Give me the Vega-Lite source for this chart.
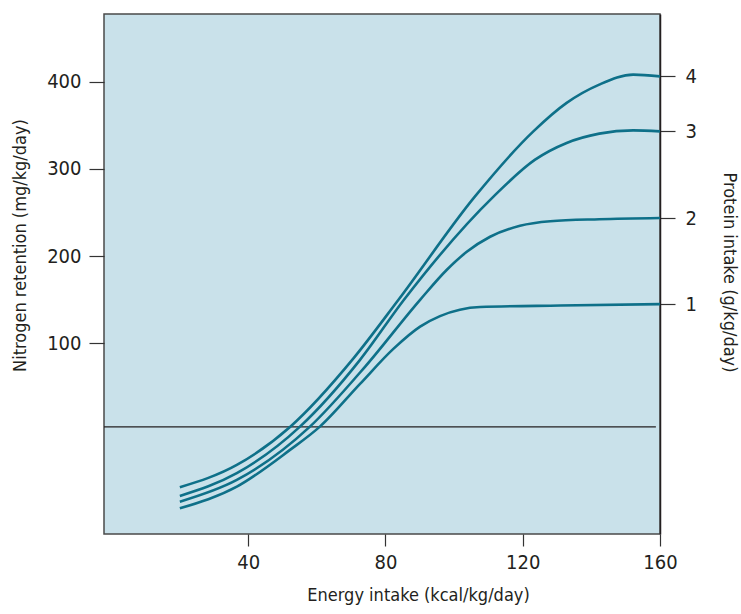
{
  "$schema": "https://vega.github.io/schema/vega-lite/v6.json",
  "width": 556,
  "height": 520,
  "autosize": "none",
  "padding": {"left": 104, "top": 14, "right": 81, "bottom": 80},
  "background": "white",
  "config": {
    "view": {"stroke": "#4a4a4a", "strokeWidth": 1.5, "fill": "#c9e1ea"},
    "font": "DejaVu Sans Condensed, Liberation Sans Narrow, DejaVu Sans, sans-serif",
    "axis": {
      "labelFont": "DejaVu Sans Condensed, Liberation Sans Narrow, DejaVu Sans, sans-serif",
      "titleFont": "DejaVu Sans Condensed, Liberation Sans Narrow, DejaVu Sans, sans-serif",
      "labelFontSize": 20,
      "titleFontSize": 18,
      "titleFontWeight": "normal",
      "labelColor": "#231f20",
      "titleColor": "#231f20",
      "tickColor": "#333333",
      "grid": false,
      "labelFlush": false,
      "labelOverlap": false
    }
  },
  "datasets": {
    "curves": [
      {"curve": "4", "energy": 20.1, "nitrogen": -65.5},
      {"curve": "4", "energy": 36.7, "nitrogen": -39.9},
      {"curve": "4", "energy": 52.2, "nitrogen": 3.8},
      {"curve": "4", "energy": 70.8, "nitrogen": 83.1},
      {"curve": "4", "energy": 83.8, "nitrogen": 149.8},
      {"curve": "4", "energy": 106.1, "nitrogen": 268.5},
      {"curve": "4", "energy": 123.1, "nitrogen": 343.2},
      {"curve": "4", "energy": 132.8, "nitrogen": 375.9},
      {"curve": "4", "energy": 142.3, "nitrogen": 396.9},
      {"curve": "4", "energy": 152.2, "nitrogen": 408.4},
      {"curve": "4", "energy": 160, "nitrogen": 406.4},

      {"curve": "3", "energy": 20.1, "nitrogen": -75.5},
      {"curve": "3", "energy": 36.7, "nitrogen": -49.4},
      {"curve": "3", "energy": 55.1, "nitrogen": 4.1},
      {"curve": "3", "energy": 72.6, "nitrogen": 80.8},
      {"curve": "3", "energy": 85.4, "nitrogen": 149.8},
      {"curve": "3", "energy": 111.4, "nitrogen": 268.0},
      {"curve": "3", "energy": 123.6, "nitrogen": 310.7},
      {"curve": "3", "energy": 132.8, "nitrogen": 329.9},
      {"curve": "3", "energy": 142.3, "nitrogen": 340.6},
      {"curve": "3", "energy": 152.2, "nitrogen": 344.4},
      {"curve": "3", "energy": 160, "nitrogen": 343.2},

      {"curve": "2", "energy": 20.1, "nitrogen": -82.1},
      {"curve": "2", "energy": 36.7, "nitrogen": -57.1},
      {"curve": "2", "energy": 58.0, "nitrogen": 4.1},
      {"curve": "2", "energy": 74.1, "nitrogen": 73.1},
      {"curve": "2", "energy": 90.1, "nitrogen": 149.8},
      {"curve": "2", "energy": 97.9, "nitrogen": 184.3},
      {"curve": "2", "energy": 103.7, "nitrogen": 204.9},
      {"curve": "2", "energy": 110.5, "nitrogen": 222.2},
      {"curve": "2", "energy": 119.2, "nitrogen": 234.8},
      {"curve": "2", "energy": 128.0, "nitrogen": 240.0},
      {"curve": "2", "energy": 142.3, "nitrogen": 242.3},
      {"curve": "2", "energy": 160, "nitrogen": 243.7},

      {"curve": "1", "energy": 20.1, "nitrogen": -89.7},
      {"curve": "1", "energy": 36.7, "nitrogen": -64.8},
      {"curve": "1", "energy": 52.2, "nitrogen": -22.6},
      {"curve": "1", "energy": 60.9, "nitrogen": 4.1},
      {"curve": "1", "energy": 72.6, "nitrogen": 53.2},
      {"curve": "1", "energy": 82.3, "nitrogen": 93.4},
      {"curve": "1", "energy": 90.1, "nitrogen": 119.0},
      {"curve": "1", "energy": 95.9, "nitrogen": 131.0},
      {"curve": "1", "energy": 107.6, "nitrogen": 141.5},
      {"curve": "1", "energy": 130.9, "nitrogen": 143.2},
      {"curve": "1", "energy": 160, "nitrogen": 144.8}
    ],
    "baseline": [
      {"nitrogen": 3.8, "from": -2, "to": 158.8}
    ]
  },
  "layer": [
    {
      "data": {"name": "baseline"},
      "mark": {"type": "rule", "color": "#231f20", "strokeWidth": 1.2},
      "encoding": {
        "x": {
          "field": "from", "type": "quantitative",
          "scale": {"domain": [-2, 160], "nice": false, "zero": false},
          "axis": {
            "values": [40, 80, 120, 160],
            "domain": false,
            "tickSize": 12,
            "tickWidth": 1.2,
            "labelPadding": 6,
            "title": "Energy intake (kcal/kg/day)",
            "titleX": 314,
            "titleY": 66,
            "titleBaseline": "alphabetic",
            "titleAlign": "center"
          }
        },
        "x2": {"field": "to"},
        "y": {
          "field": "nitrogen", "type": "quantitative",
          "scale": {"domain": [-119.2, 478], "nice": false, "zero": false},
          "axis": {
            "orient": "left",
            "values": [100, 200, 300, 400],
            "domain": false,
            "tickSize": 15,
            "tickWidth": 1.2,
            "labelPadding": 8,
            "title": "Nitrogen retention (mg/kg/day)",
            "titleAngle": -90,
            "titleX": -84,
            "titleY": 231,
            "titleBaseline": "middle",
            "titleAlign": "center"
          }
        }
      }
    },
    {
      "data": {"name": "curves"},
      "mark": {"type": "line", "interpolate": "monotone", "color": "#0e7089", "strokeWidth": 2.6},
      "encoding": {
        "x": {"field": "energy", "type": "quantitative"},
        "y": {
          "field": "nitrogen", "type": "quantitative",
          "axis": {
            "orient": "right",
            "values": [144.8, 243.7, 343.2, 406.4],
            "labelExpr": "datum.value > 400 ? '4' : datum.value > 300 ? '3' : datum.value > 200 ? '2' : '1'",
            "domain": true,
            "domainColor": "#231f20",
            "domainWidth": 1.5,
            "tickSize": 15,
            "tickWidth": 1.2,
            "labelPadding": 10,
            "title": "Protein intake (g/kg/day)",
            "titleAngle": 90,
            "titleX": 68,
            "titleY": 258,
            "titleBaseline": "middle",
            "titleAlign": "center"
          }
        },
        "detail": {"field": "curve", "type": "nominal"}
      }
    }
  ],
  "resolve": {"axis": {"y": "independent"}}
}
